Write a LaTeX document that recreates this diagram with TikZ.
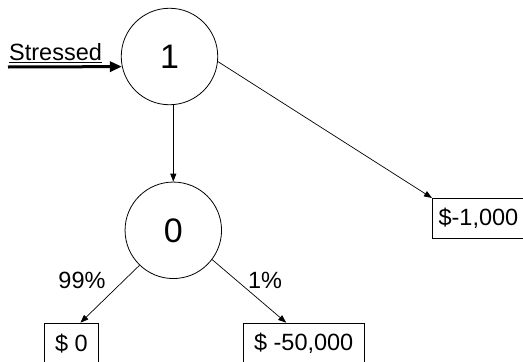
\documentclass[tikz,border=0pt]{standalone}
\usepackage{fontspec}
\setmainfont{Liberation Sans}
\usetikzlibrary{arrows.meta,calc}
\begin{document}
\begin{tikzpicture}[x=1pt,y=-1pt,
  chance/.style={circle,draw,line width=0.8pt,minimum size=96.5pt,inner sep=0pt,
    font=\fontsize{34}{40}\selectfont},
  payoff/.style={draw,line width=0.9pt,minimum height=40pt,inner sep=0pt,
    anchor=north west,font=\fontsize{23.5}{28}\selectfont},
  lbl/.style={inner sep=0pt,font=\fontsize{23.5}{28}\selectfont},
  branch/.style={line width=0.7pt,-{Triangle[length=8pt,width=6pt]}}]
\useasboundingbox (0,0) rectangle (523,362);

% chance nodes
\node[chance] (c1) at (169.5,56.5) {1};
\node[chance] (c0) at (173.3,230.3) {0};

% payoffs
\node[payoff,minimum width=92pt] (b1000) at (432,198) {\$-1,000};
\node[payoff,minimum width=54pt] (b0) at (44,322.7) {\$ 0};
\node[payoff,minimum width=121.5pt] (b50k) at (242.5,322.7) {\$ -50,000};

% labels
\node[lbl,anchor=base west] (st) at (9,60) {Stressed};
\node[lbl] (p99) at (82,280) {99\%};
\node[lbl] (p1) at (265,280) {1\%};

% entry arrow with underlined label
\draw[line width=1.5pt] ([yshift=-2.5pt]st.base west) -- ([yshift=-2.5pt]st.base east);
\coordinate (s0) at (8,67);
\draw[line width=3pt,-{Triangle[length=12pt,width=10pt]}] (s0) -- (c1.192.6);

% branches
\draw[branch] (c1.-6) -- (b1000.north west);
\draw[branch] (c0.north |- c1.south) -- (c0.north);
\draw[branch] (c0.226) -- ($(b0.north)+(9,0)$);
\draw[branch] (c0.-37.6) -- ($(b50k.north)+(-17.5,0)$);
\end{tikzpicture}
\end{document}
